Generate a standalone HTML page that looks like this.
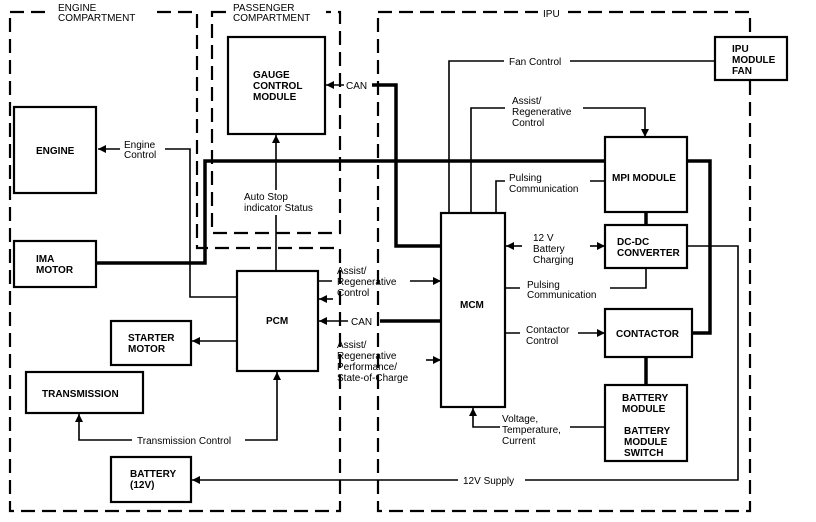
<!DOCTYPE html>
<html><head><meta charset="utf-8"><style>
html,body{margin:0;padding:0;background:#fff;}
svg{display:block;}
text{font-family:"Liberation Sans",sans-serif;font-size:10px;fill:#000;}
.b{font-weight:bold;}
</style></head><body>
<svg width="816" height="522" viewBox="0 0 816 522" xmlns="http://www.w3.org/2000/svg">
<defs>
<marker id="a" viewBox="0 0 10 10" refX="10" refY="5" markerWidth="5" markerHeight="5" orient="auto"><path d="M0,0L10,5L0,10z" fill="#000"/></marker>
</defs>
<g fill="none" stroke="#000" stroke-width="2.2" stroke-dasharray="14,7">
<path d="M10,12H197V248H340V511H10Z"/>
<path d="M212,12H340V233H212Z"/>
<path d="M378,12H750V511H378Z"/>
</g>
<rect x="50" y="2" width="100" height="22" fill="#fff"/>
<text x="58" y="11">ENGINE</text><text x="58" y="21">COMPARTMENT</text>
<rect x="228" y="2" width="98" height="22" fill="#fff"/>
<text x="233" y="11">PASSENGER</text><text x="233" y="21">COMPARTMENT</text>
<rect x="538" y="6" width="30" height="12" fill="#fff"/>
<text x="543" y="17">IPU</text>

<g fill="#fff" stroke="#000" stroke-width="2.2">
<rect x="228" y="37" width="97" height="97"/>
<rect x="14" y="107" width="82" height="86"/>
<rect x="14" y="241" width="82" height="46"/>
<rect x="237" y="271" width="81" height="100"/>
<rect x="111" y="321" width="80" height="44"/>
<rect x="26" y="372" width="117" height="41"/>
<rect x="111" y="457" width="80" height="45"/>
<rect x="441" y="213" width="64" height="194"/>
<rect x="715" y="37" width="72" height="43"/>
<rect x="605" y="137" width="82" height="75"/>
<rect x="605" y="225" width="82" height="43"/>
<rect x="605" y="309" width="87" height="48"/>
<rect x="605" y="385" width="82" height="76"/>
</g>
<g class="b">
<text x="253" y="78">GAUGE</text><text x="253" y="89">CONTROL</text><text x="253" y="100">MODULE</text>
<text x="36" y="154">ENGINE</text>
<text x="36" y="262">IMA</text><text x="36" y="273">MOTOR</text>
<text x="266" y="324">PCM</text>
<text x="128" y="341">STARTER</text><text x="128" y="352">MOTOR</text>
<text x="42" y="397">TRANSMISSION</text>
<text x="130" y="477">BATTERY</text><text x="130" y="488">(12V)</text>
<text x="460" y="308">MCM</text>
<text x="732" y="52">IPU</text><text x="732" y="63">MODULE</text><text x="732" y="74">FAN</text>
<text x="612" y="181">MPI MODULE</text>
<text x="617" y="245">DC-DC</text><text x="617" y="256">CONVERTER</text>
<text x="616" y="337">CONTACTOR</text>
<text x="622" y="401">BATTERY</text><text x="622" y="412">MODULE</text>
<text x="624" y="434">BATTERY</text><text x="624" y="445">MODULE</text><text x="624" y="456">SWITCH</text>
</g>

<g fill="none" stroke="#000" stroke-width="3.5">
<path d="M96,263H205V161H605"/>
<path d="M687,161H710V333H692"/>
<path d="M372,85H396V246H441"/>
<path d="M441,321H380"/>
<path d="M646,212V225M646,357V385"/>
</g>
<g fill="none" stroke="#000" stroke-width="1.6">
<path d="M165,149H190V297H237"/>
<path d="M120,149H98" marker-end="url(#a)"/>
<path d="M276,190V135" marker-end="url(#a)"/>
<path d="M276,271V215"/>
<path d="M344,85H326" marker-end="url(#a)"/>
<path d="M348,321H319" marker-end="url(#a)"/>
<path d="M318,281H332M410,281H441" marker-end="url(#a)"/>
<path d="M333,299H319" marker-end="url(#a)"/>
<path d="M426,360H441" marker-end="url(#a)"/>
<path d="M237,341H192" marker-end="url(#a)"/>
<path d="M245,440H277V372" marker-end="url(#a)"/>
<path d="M132,440H79V414" marker-end="url(#a)"/>
<path d="M458,480H192" marker-end="url(#a)"/>
<path d="M525,480H738V246H687"/>
<path d="M449,213V61H504M570,61H715"/>
<path d="M471,213V108H505M583,108H645V137" marker-end="url(#a)"/>
<path d="M496,213V181H505M590,181H605"/>
<path d="M522,246H506" marker-end="url(#a)"/>
<path d="M590,246H605" marker-end="url(#a)"/>
<path d="M505,288H520M610,288H646V268"/>
<path d="M505,333H520M578,333H605" marker-end="url(#a)"/>
<path d="M605,427H570M500,427H473V408" marker-end="url(#a)"/>
</g>
<text x="124" y="148">Engine</text><text x="124" y="158">Control</text>
<text x="346" y="89">CAN</text>
<text x="244" y="200">Auto Stop</text><text x="244" y="211">indicator Status</text>
<text x="337" y="274">Assist/</text><text x="337" y="285">Regenerative</text><text x="337" y="296">Control</text>
<text x="351" y="325">CAN</text>
<text x="337" y="348">Assist/</text><text x="337" y="359">Regenerative</text><text x="337" y="370">Performance/</text><text x="337" y="381">State-of-Charge</text>
<text x="137" y="444">Transmission Control</text>
<text x="463" y="484">12V Supply</text>
<text x="509" y="65">Fan Control</text>
<text x="512" y="104">Assist/</text><text x="512" y="115">Regenerative</text><text x="512" y="126">Control</text>
<text x="509" y="181">Pulsing</text><text x="509" y="192">Communication</text>
<text x="533" y="241">12 V</text><text x="533" y="252">Battery</text><text x="533" y="263">Charging</text>
<text x="527" y="288">Pulsing</text><text x="527" y="298">Communication</text>
<text x="526" y="333">Contactor</text><text x="526" y="344">Control</text>
<text x="502" y="422">Voltage,</text><text x="502" y="433">Temperature,</text><text x="502" y="444">Current</text>
</svg>
</body></html>
